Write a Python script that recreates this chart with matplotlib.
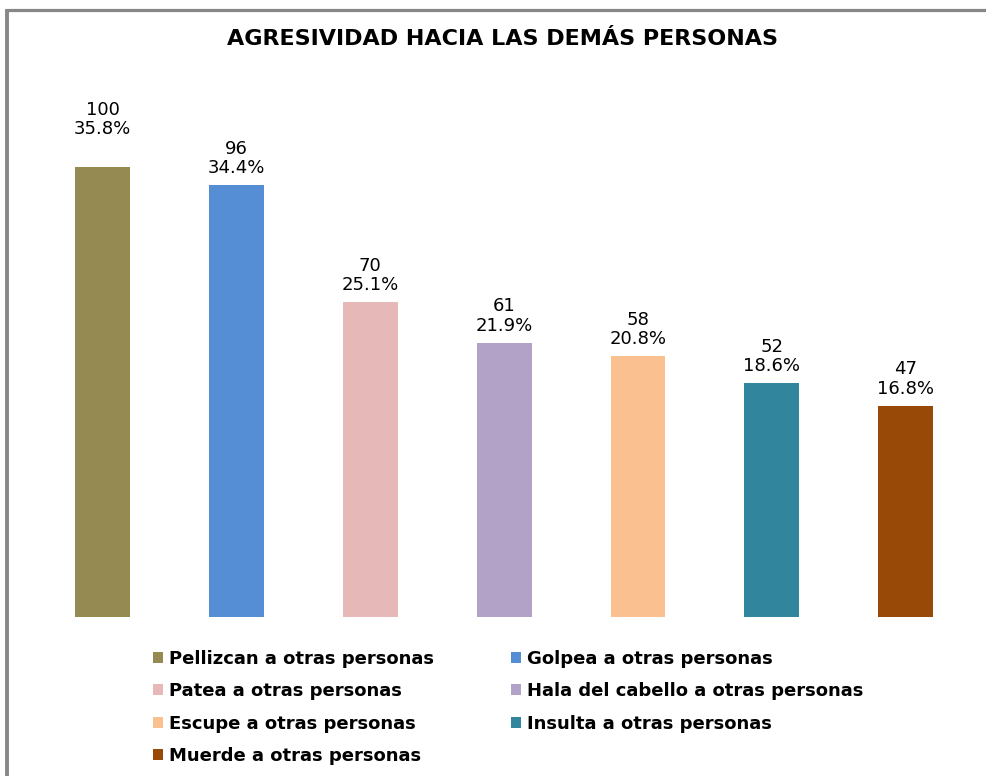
import matplotlib
matplotlib.use("Agg")
import matplotlib.pyplot as plt
from matplotlib.patches import Patch
from matplotlib.lines import Line2D

plt.rcParams['font.family'] = ['DejaVu Sans']

categories = ["Pellizcan a otras personas", "Golpea a otras personas",
              "Patea a otras personas", "Hala del cabello a otras personas",
              "Escupe a otras personas", "Insulta a otras personas",
              "Muerde a otras personas"]
counts = [100, 96, 70, 61, 58, 52, 47]
percents = [35.8, 34.4, 25.1, 21.9, 20.8, 18.6, 16.8]
colors = ["#958B52", "#558ED5", "#E6B9B8", "#B3A2C7", "#FAC090", "#31859C", "#984807"]
title = "AGRESIVIDAD HACIA LAS DEMÁS PERSONAS"

W, H = 987, 776
fig = plt.figure(figsize=(W / 100, H / 100), dpi=100)
ax = fig.add_axes([35.6 / W, (H - 617) / H, 937 / W, 540 / H])

x = list(range(len(counts)))
bars = ax.bar(x, counts, width=0.41, color=colors)
ax.set_xlim(-0.5, len(counts) - 0.5)
ax.set_ylim(0, 120)
ax.axis('off')

for xi, c, p in zip(x, counts, percents):
    pad = 20.6 if c == max(counts) else 5.5
    ax.annotate(f"{c}\n{p:.1f}%", (xi, c), xytext=(0, pad), textcoords='offset points',
                ha='center', va='bottom', fontsize=13, linespacing=1.1)

fig.text(503 / W, 1 - 39 / H, title, ha='center', va='center', fontsize=16,
         fontweight='bold')

# border lines (top and left)
fig.add_artist(Line2D([6 / W, 1.0], [1 - 10 / H, 1 - 10 / H], transform=fig.transFigure,
                      color="#878787", linewidth=2.3, solid_capstyle='butt'))
fig.add_artist(Line2D([7.5 / W, 7.5 / W], [0, 1 - 9 / H], transform=fig.transFigure,
                      color="#878787", linewidth=2.8, solid_capstyle='butt'))

handles = [Patch(facecolor=c, edgecolor='none') for c in colors]
order = [0, 2, 4, 6, 1, 3, 5]
leg = fig.legend([handles[i] for i in order], [categories[i] for i in order],
                 ncol=2, loc='upper left', bbox_to_anchor=(153 / W, 1 - 650 / H),
                 frameon=False, borderpad=0, borderaxespad=0,
                 handlelength=0.55, handleheight=0.55, handletextpad=0.33,
                 labelspacing=0.79, columnspacing=4.25,
                 prop={'size': 13, 'weight': 'bold'})

fig.savefig("out.png", dpi=100)
